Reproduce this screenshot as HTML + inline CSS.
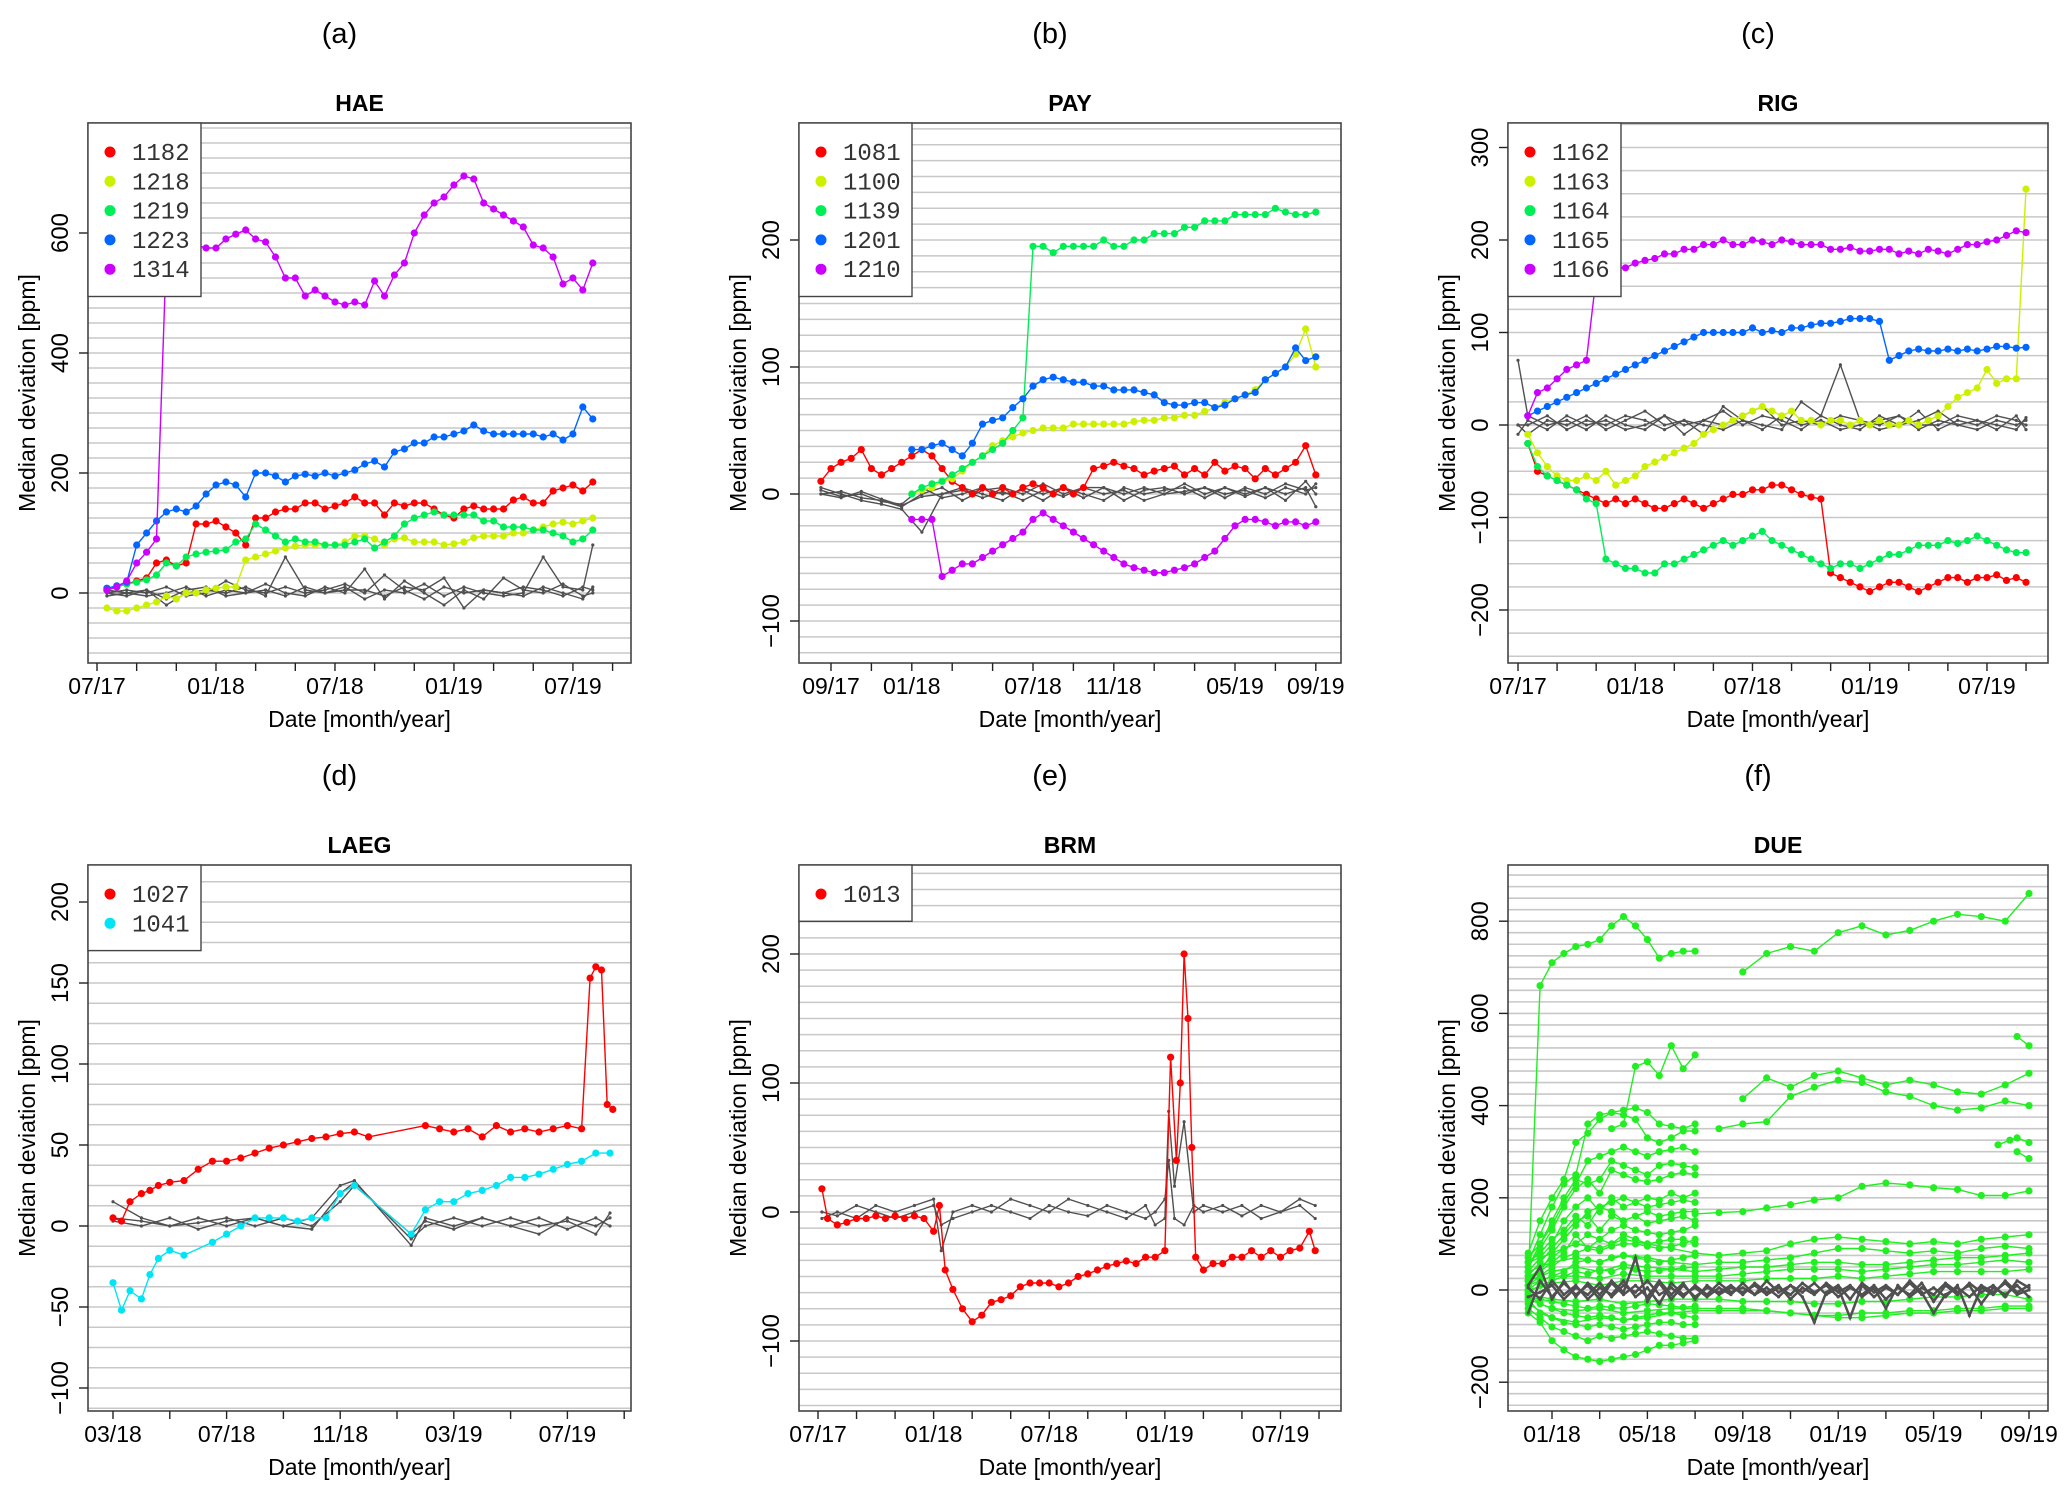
<!DOCTYPE html>
<html><head><meta charset="utf-8">
<style>
html,body{margin:0;padding:0;background:#fff;}
svg{display:block;font-family:"Liberation Sans",sans-serif;}
</style></head>
<body>
<svg id="fig" width="2067" height="1488" viewBox="0 0 2067 1488" xmlns="http://www.w3.org/2000/svg"></svg>
<script>
// ---------- DATA ----------
const A_M = [6.5,7,7.5,8,8.5,9,9.5,10,10.5,11,11.5,12,12.5,13,13.5,14,14.5,15,15.5,16,16.5,17,17.5,18,18.5,19,19.5,20,20.5,21,21.5,22,22.5,23,23.5,24,24.5,25,25.5,26,26.5,27,27.5,28,28.5,29,29.5,30,30.5,31];
const a1314 = [5,10,20,50,68,90,570,560,575,580,575,575,590,598,605,590,585,560,525,525,495,505,495,485,480,485,480,520,495,530,550,600,630,650,660,680,695,690,650,640,630,620,610,580,575,560,515,525,505,550];
const a1223 = [8,12,18,80,100,120,135,140,135,145,165,180,185,180,160,200,200,195,185,195,198,195,200,195,200,205,215,220,210,235,240,250,250,260,260,265,270,280,270,265,265,265,265,265,260,265,255,265,310,290];
const a1182 = [5,10,15,20,25,50,55,45,50,115,115,120,110,100,80,125,125,135,140,140,150,150,140,145,150,160,150,150,130,150,145,150,150,140,130,125,140,145,140,140,140,155,160,150,150,170,175,180,170,185];
const a1219 = [5,10,15,18,22,30,50,45,60,65,68,70,72,85,90,115,105,95,85,90,85,85,80,80,80,85,90,75,85,95,115,125,130,135,130,130,130,130,120,120,110,110,110,105,105,100,95,85,90,105];
const a1218 = [-25,-30,-30,-25,-20,-15,-5,-10,0,0,5,8,10,10,55,60,65,70,75,78,80,80,80,80,85,95,95,90,80,90,92,85,85,85,80,82,85,92,95,95,95,100,100,105,110,115,118,115,120,125];
const A_G = [6.5,7.5,8.5,9.5,10.5,11.5,12.5,13.5,14.5,15.5,16.5,17.5,18.5,19.5,20.5,21.5,22.5,23.5,24.5,25.5,26.5,27.5,28.5,29.5,30.5,31];
const aG1 = [0,-5,5,-20,0,5,0,10,-5,60,5,0,10,-10,5,0,15,-5,10,0,-5,0,60,10,5,80];
const aG2 = [5,0,-5,0,10,-5,5,0,15,0,-5,10,0,40,-10,20,0,-20,5,-10,25,5,0,15,-5,0];
const aG3 = [0,5,0,10,-5,0,20,5,0,10,0,5,15,0,30,5,-10,10,0,5,0,10,5,-5,10,5];
const aG4 = [-5,0,5,-10,5,10,-5,0,5,-5,10,0,5,5,-5,10,5,25,-25,5,0,-5,10,0,-10,10];

const B_M = [7.5,8,8.5,9,9.5,10,10.5,11,11.5,12,12.5,13,13.5,14,14.5,15,15.5,16,16.5,17,17.5,18,18.5,19,19.5,20,20.5,21,21.5,22,22.5,23,23.5,24,24.5,25,25.5,26,26.5,27,27.5,28,28.5,29,29.5,30,30.5,31,31.5,32];
const b1081 = [10,20,25,28,35,20,15,20,25,30,35,30,20,10,5,0,5,0,5,0,5,8,5,0,5,0,5,20,22,25,22,20,15,18,20,22,15,20,15,25,18,22,20,12,20,15,20,25,38,15];
const B_M2 = [12,12.5,13,13.5,14,14.5,15,15.5,16,16.5,17,17.5,18,18.5,19,19.5,20,20.5,21,21.5,22,22.5,23,23.5,24,24.5,25,25.5,26,26.5,27,27.5,28,28.5,29,29.5,30,30.5,31,31.5,32];
const b1139 = [0,5,8,10,15,20,25,30,35,40,50,60,195,195,190,195,195,195,195,200,195,195,200,200,205,205,205,210,210,215,215,215,220,220,220,220,225,222,220,220,222];
const b1100 = [0,3,5,10,12,18,25,30,38,42,45,48,50,52,52,52,55,55,55,55,55,55,57,58,58,60,60,62,62,65,68,72,75,78,82,90,95,100,110,130,100];
const b1201 = [35,35,38,40,35,30,40,55,58,60,68,75,85,90,92,90,88,88,85,85,82,82,82,80,78,72,70,70,72,72,68,70,75,78,80,90,95,100,115,105,108];
const b1210 = [-20,-20,-20,-65,-60,-55,-55,-50,-45,-40,-35,-30,-20,-15,-20,-25,-30,-35,-40,-45,-50,-55,-58,-60,-62,-62,-60,-58,-55,-50,-45,-35,-25,-20,-20,-22,-25,-22,-22,-25,-22];
const B_G = [7.5,8.5,9.5,10.5,11.5,12.5,13.5,14.5,15.5,16.5,17.5,18.5,19.5,20.5,21.5,22.5,23.5,24.5,25.5,26.5,27.5,28.5,29.5,30.5,31.5,32];
const bG1 = [5,0,-5,-8,-12,-30,0,5,0,-5,5,0,5,-3,5,0,5,0,8,0,5,-2,5,0,5,-10];
const bG2 = [0,2,-3,-5,-10,0,5,-5,3,5,0,8,0,5,5,-5,3,5,0,5,-3,5,0,8,3,5];
const bG3 = [3,-2,0,-6,-8,5,-3,0,5,0,3,-5,5,0,-5,5,0,3,5,-3,5,0,5,-5,10,0];
const bG4 = [0,-3,2,-4,-9,-2,0,3,-3,2,-5,3,-2,5,0,3,-5,0,2,5,0,3,-3,5,0,8];

const C_M = [6.5,7,7.5,8,8.5,9,9.5,10,10.5,11,11.5,12,12.5,13,13.5,14,14.5,15,15.5,16,16.5,17,17.5,18,18.5,19,19.5,20,20.5,21,21.5,22,22.5,23,23.5,24,24.5,25,25.5,26,26.5,27,27.5,28,28.5,29,29.5,30,30.5,31,31.5,32];
const c1166 = [10,35,40,50,60,65,70,160,165,170,170,175,178,180,185,185,190,190,195,195,200,195,195,200,198,195,200,198,195,195,195,190,190,192,188,188,190,190,185,188,185,190,188,185,190,195,195,198,200,205,210,208];
const c1165 = [10,15,20,25,30,35,40,45,50,55,60,65,70,75,80,85,90,95,100,100,100,100,100,105,100,102,100,105,105,108,110,110,112,115,115,115,112,70,75,80,82,80,80,82,80,82,80,82,85,85,83,84];
const c1162 = [-20,-50,-55,-60,-65,-70,-75,-80,-85,-80,-85,-80,-85,-90,-90,-85,-80,-85,-90,-85,-80,-75,-75,-70,-70,-65,-65,-70,-75,-78,-80,-160,-165,-170,-175,-180,-175,-170,-170,-175,-180,-175,-170,-165,-165,-170,-165,-165,-162,-168,-165,-170];
const c1164 = [-20,-45,-55,-60,-65,-70,-80,-85,-145,-150,-155,-155,-160,-160,-150,-150,-145,-140,-135,-130,-125,-130,-125,-120,-115,-125,-130,-135,-140,-145,-150,-155,-150,-150,-155,-150,-145,-140,-140,-135,-130,-130,-130,-125,-128,-125,-120,-125,-130,-135,-138,-138];
const c1163 = [-10,-30,-45,-55,-60,-60,-55,-60,-50,-65,-60,-55,-45,-40,-35,-30,-25,-20,-10,-5,0,5,10,15,20,15,10,15,5,5,0,5,5,0,5,0,5,0,0,5,0,5,10,20,30,35,40,60,45,50,50,255];
const C_G = [6,6.5,7.5,8.5,9.5,10.5,11.5,12.5,13.5,14.5,15.5,16.5,17.5,18.5,19.5,20.5,21.5,22.5,23.5,24.5,25.5,26.5,27.5,28.5,29.5,30.5,31.5,32];
const cG1 = [70,10,0,5,-5,10,0,-5,10,0,5,15,0,10,5,-5,10,65,5,0,10,-5,5,0,5,-5,10,-5];
const cG2 = [0,-10,5,0,10,-5,5,15,0,5,-10,20,5,0,-5,25,10,0,-5,10,0,15,-5,5,0,10,5,0];
const cG3 = [-10,5,-5,10,0,5,-5,0,10,-10,5,0,10,20,0,5,0,10,5,-5,0,5,15,0,-5,5,0,5];
const cG4 = [0,0,10,-5,5,0,10,5,-5,5,0,-5,5,-5,10,0,5,-5,0,5,10,0,0,10,5,0,-5,8];

const D_M = [14,14.3,14.6,15,15.3,15.6,16,16.5,17,17.5,18,18.5,19,19.5,20,20.5,21,21.5,22,22.5,23,25,25.5,26,26.5,27,27.5,28,28.5,29,29.5,30,30.5,30.8,31,31.2,31.4,31.6];
const d1027 = [5,3,15,20,22,25,27,28,35,40,40,42,45,48,50,52,54,55,57,58,55,62,60,58,60,55,62,58,60,58,60,62,60,153,160,158,75,72];
const D_M2 = [14,14.3,14.6,15,15.3,15.6,16,16.5,17.5,18,18.5,19,19.5,20,20.5,21,21.5,22,22.5,24.5,25,25.5,26,26.5,27,27.5,28,28.5,29,29.5,30,30.5,31,31.5];
const d1041 = [-35,-52,-40,-45,-30,-20,-15,-18,-10,-5,0,5,5,5,3,5,5,20,25,-5,10,15,15,20,22,25,30,30,32,35,38,40,45,45];
const D_G = [14,15,16,17,18,19,20,21,22,22.5,24.5,25,26,27,28,29,30,31,31.5];
const dG1 = [15,5,0,5,0,5,0,5,25,28,-12,5,0,5,0,-5,5,0,5];
const dG2 = [3,0,5,-2,3,5,0,-2,20,27,-8,0,5,0,5,0,3,-5,8];
const dG3 = [5,3,0,2,5,0,5,0,15,25,-5,3,-2,5,0,5,-2,5,0];

const E_M = [6.2,6.5,7,7.5,8,8.5,9,9.5,10,10.5,11,11.5,12,12.3,12.6,13,13.5,14,14.5,15,15.5,16,16.5,17,17.5,18,18.5,19,19.5,20,20.5,21,21.5,22,22.5,23,23.5,24,24.3,24.6,24.8,25,25.2,25.4,25.6,26,26.5,27,27.5,28,28.5,29,29.5,30,30.5,31,31.5,31.8];
const e1013 = [18,-5,-10,-8,-5,-5,-3,-5,-3,-5,-3,-5,-15,5,-45,-60,-75,-85,-80,-70,-68,-65,-58,-55,-55,-55,-58,-55,-50,-48,-45,-42,-40,-38,-40,-35,-35,-30,120,40,100,200,150,50,-35,-45,-40,-40,-35,-35,-30,-35,-30,-35,-30,-28,-15,-30];
const E_G = [6.2,7,8,9,10,11,12,12.4,13,14,15,16,17,18,19,20,21,22,23,23.5,24,24.2,24.5,25,25.5,26,27,28,29,30,31,31.8];
const eG1 = [-5,0,-5,5,0,5,10,-30,0,5,0,10,5,0,10,5,0,-5,5,-10,-5,78,20,70,0,5,0,5,-5,0,10,5];
const eG2 = [0,-3,5,0,-5,0,5,-10,-5,0,5,0,-5,5,0,-3,5,0,-5,0,10,40,-5,-10,5,0,5,-3,5,0,5,-5];

const F_H = [11,11.5,12,12.5,13,13.5,14,14.5,15,15.5,16,16.5,17,17.5,18];
const F_L = [11,12,13,14,15,16,17,18,19,20,21,22,23,24,25,26,27,28,29,30,31,32];
const F_T = [20,21,22,23,24,25,26,27,28,29,30,31,32];
const fTop1 = [20,660,710,730,745,750,760,790,810,790,760,720,730,735,735];
const fTop2 = [690,730,745,735,775,790,770,780,800,815,810,800,860];
const fH1 = [80,150,200,240,320,340,370,385,390,395,385,360,355,350,360];
const fH2 = [60,120,180,230,250,360,380,385,380,370,330,320,330,345,345];
const fH3 = [70,100,150,200,240,230,240,280,270,260,250,270,275,270,265];
const fH4 = [50,90,130,180,220,240,210,260,250,240,235,240,250,255,250];
const fH5 = [40,70,100,150,180,200,170,200,180,190,200,195,210,200,210];
const fH6 = [30,60,90,120,150,160,130,160,150,160,170,160,165,170,170];
const fH7 = [20,50,70,90,100,120,110,130,140,130,125,120,125,130,140];
const fH8 = [10,30,50,70,80,90,85,95,100,100,95,90,95,100,110];
const fH9 = [0,20,30,40,60,65,60,70,75,70,65,60,65,70,75];
const fH10 = [-10,-30,-40,-50,-55,-60,-55,-60,-65,-60,-55,-50,-50,-55,-60];
const fH11 = [-20,-50,-60,-70,-75,-80,-75,-80,-85,-80,-75,-70,-70,-75,-75];
const fH12 = [-40,-60,-80,-90,-100,-110,-100,-105,-100,-95,-90,-95,-100,-105,-105];
const fH13 = [-50,-70,-110,-130,-145,-150,-155,-150,-145,-140,-130,-120,-120,-115,-110];
const fH14 = [60,80,110,130,160,140,180,170,150,160,145,150,155,160,150];
const fH15 = [30,40,60,80,120,90,110,100,120,110,100,105,110,110,100];
const fH16 = [-5,10,20,30,40,35,45,40,50,45,40,42,45,48,50];
const fH17 = [-15,-20,-25,-30,-35,-40,-35,-38,-40,-35,-30,-32,-35,-38,-35];
const fH18 = [50,100,140,190,230,280,290,300,310,300,290,300,305,310,300];
const fH19 = [20,40,80,110,140,170,180,190,200,190,180,185,190,195,190];
const fH500 = [null,null,null,null,null,null,null,350,360,485,495,465,530,480,510];
const fL1 = [60,80,100,90,110,100,90,80,75,80,85,100,110,115,110,105,100,105,100,110,115,120];
const fL2 = [40,60,70,60,75,70,60,55,60,60,65,70,80,90,90,85,80,85,80,90,95,90];
const fL3 = [20,40,50,40,55,50,45,40,45,50,50,55,60,60,55,55,60,65,70,70,75,80];
const fL4 = [10,30,30,25,35,30,30,30,30,35,40,45,45,45,40,45,50,55,55,60,65,60];
const fL5 = [0,15,20,10,20,20,15,20,20,20,25,25,25,30,25,30,35,40,40,40,40,45];
const fL6 = [-10,-20,-25,-20,-30,-25,-20,-20,-20,-25,-25,-25,-30,-30,-25,-25,-20,-15,-15,-10,-10,-20];
const fL7 = [-20,-40,-45,-40,-50,-45,-40,-40,-40,-40,-45,-50,-55,-55,-50,-50,-45,-45,-40,-40,-35,-35];
const fL8 = [-30,-60,-70,-60,-65,-60,-50,-45,-45,-45,-45,-50,-55,-60,-60,-55,-50,-50,-45,-45,-40,-40];
const fL200 = [null,null,null,null,null,null,null,165,168,170,178,185,195,200,225,232,228,222,218,205,205,215];
const fL400 = [null,null,null,null,null,null,null,null,350,360,365,420,440,455,450,430,420,400,390,395,410,400];
const fL460 = [null,null,null,null,null,null,null,null,null,415,460,440,465,475,460,445,455,445,430,425,445,470];
const F_E1 = [31.5,32];
const fE550 = [550,530];
const F_E2 = [30.7,31.2,31.5,32];
const fE320 = [315,325,330,320];
const fE290 = [300,285];
const F_G = [11,11.5,12,12.5,13,13.5,14,14.5,15,15.5,16,16.5,17,17.5,18,18.5,19,19.5,20,20.5,21,21.5,22,22.5,23,23.5,24,24.5,25,25.5,26,26.5,27,27.5,28,28.5,29,29.5,30,30.5,31,31.5,32];
const fG1 = [-50,20,-15,15,-10,10,-20,15,-10,10,-15,20,-10,15,-20,10,-10,5,-5,10,-10,5,-10,15,-5,10,-15,5,-10,10,-20,5,-10,15,-25,10,-10,15,-5,10,-15,20,5];
const fG2 = [10,50,-20,20,-15,15,-10,20,-5,70,-25,15,-20,10,-15,5,-5,10,-10,15,-5,10,-20,5,-10,15,-5,10,-15,5,-40,10,-15,5,-10,15,-5,10,-30,5,-10,10,-15];
const fG3 = [-15,-5,10,-20,5,-10,15,-15,10,-5,20,-10,5,-15,10,-10,15,-5,5,-10,20,-5,10,-15,-70,-5,10,-20,15,-5,10,-10,20,-5,-50,-10,5,-15,10,-5,15,-10,0];
const fG4 = [5,-20,20,-10,10,-20,5,-10,20,-15,5,-30,15,-10,5,-15,5,-10,15,-10,5,-15,10,-5,15,-10,5,-60,10,-15,5,-10,15,-10,5,-15,10,-55,5,-10,20,-5,10];

// ---------- DRAWING ----------
const NS = "http://www.w3.org/2000/svg";
const svg = document.getElementById('fig');
function mk(tag, attrs, parent) {
  const e = document.createElementNS(NS, tag);
  for (const k in attrs) e.setAttribute(k, attrs[k]);
  (parent || svg).appendChild(e);
  return e;
}
function txt(str, attrs, parent) { const t = mk('text', attrs, parent); t.textContent = str; return t; }

function panel(p) {
  const g = mk('g', {});
  
  
  const X = m => p.x0 + (m - p.m0) * p.pxm;
  const Y = v => p.y0 - v * p.pxv;
  const gg = mk('g', {}, g);
  
  
  const vTop = (p.y0 - p.T) / p.pxv, vBot = (p.y0 - p.B) / p.pxv;
  for (let v = Math.ceil(vBot / p.grid) * p.grid; v <= vTop; v += p.grid) {
    mk('line', {x1: p.L, x2: p.R, y1: Y(v), y2: Y(v), stroke: '#c8c8c8', 'stroke-width': 1.6}, gg);
  }
  const sg = mk('g', {'clip-path': 'url(#clip-' + p.key + ')'}, g);
  
  
  const cp = mk('clipPath', {id: 'clip-' + p.key});
  mk('rect', {x: p.L, y: p.T, width: p.R - p.L, height: p.B - p.T}, cp);
  p.series.forEach(s => {
    const n = Math.min(s.x.length, s.y.length);
    let d = '', pen = false;
    for (let i = 0; i < n; i++) {
      if (s.y[i] === null) { pen = false; continue; }
      d += (pen ? 'L' : 'M') + X(s.x[i]).toFixed(1) + ' ' + Y(s.y[i]).toFixed(1);
      pen = true;
    }
    const path = mk('path', {d: d, fill: 'none', stroke: s.c, 'stroke-width': s.grey ? (s.w || 1.4) : 1.4}, sg);
    
    
    const r = s.grey ? 1.6 : 3.6;
    for (let i = 0; i < n; i++) {
      if (s.y[i] === null) continue;
      const c = mk('circle', {cx: X(s.x[i]).toFixed(1), cy: Y(s.y[i]).toFixed(1), r: r, fill: s.c}, sg);
      
      
    }
  });
  const box = mk('rect', {x: p.L, y: p.T, width: p.R - p.L, height: p.B - p.T, fill: 'none', stroke: '#444', 'stroke-width': 1.6}, g);
  
  
  // y axis
  const ya = mk('g', {}, g);
  
  
  p.yt.forEach(v => {
    mk('line', {x1: p.L - 9, x2: p.L, y1: Y(v), y2: Y(v), stroke: '#222', 'stroke-width': 1.4}, ya);
    const t = txt(String(v).replace('-', '\u2212'), {x: p.L - 20, y: Y(v), 'font-size': 24, 'text-anchor': 'middle', transform: 'rotate(-90 ' + (p.L - 20) + ' ' + Y(v) + ')'}, ya);
    
    
  });
  const yl = txt('Median deviation [ppm]', {x: p.L - 53, y: (p.T + p.B) / 2, 'font-size': 23, 'text-anchor': 'middle', transform: 'rotate(-90 ' + (p.L - 53) + ' ' + ((p.T + p.B) / 2) + ')'}, g);
  
  
  // x axis
  const xa = mk('g', {}, g);
  
  
  p.xt.forEach(m => mk('line', {x1: X(m), x2: X(m), y1: p.B, y2: p.B + 8, stroke: '#222', 'stroke-width': 1.4}, xa));
  p.xl.forEach((lab, i) => {
    const t = txt(lab, {x: X(p.xlm[i]), y: p.B + 31, 'font-size': 23, 'text-anchor': 'middle'}, xa);
    
    
  });
  const xl = txt('Date [month/year]', {x: (p.L + p.R) / 2, y: p.B + 64, 'font-size': 23, 'text-anchor': 'middle'}, g);
  
  
  const tl = txt(p.letter, {x: (p.L + p.R) / 2 - 20, y: p.T - 80, 'font-size': 29, 'text-anchor': 'middle'}, g);
  
  
  const tt = txt(p.title, {x: (p.L + p.R) / 2, y: p.T - 12, 'font-size': 23, 'font-weight': 'bold', 'text-anchor': 'middle'}, g);
  
  
  const leg = p.series.filter(s => s.legend);
  if (leg.length) {
    const lg = mk('g', {}, g);
    
    
    mk('rect', {x: p.L, y: p.T, width: 113, height: 22 + leg.length * 29.3 + 5, fill: '#fff', stroke: '#444', 'stroke-width': 1.4}, lg);
    leg.forEach((s, i) => {
      const yy = p.T + 29 + i * 29.3;
      const e = mk('g', {}, lg);
      
      
      mk('circle', {cx: p.L + 22, cy: yy, r: 5.5, fill: s.c}, e);
      txt(s.name, {x: p.L + 44, y: yy + 8, 'font-size': 24, 'font-family': '"Liberation Mono", monospace', fill: '#333'}, e);
    });
  }
}

const RED = '#ff0000', YEL = '#ccf000', GRN = '#00ee55', BLU = '#0066ff', PUR = '#cc00ff', GRY = '#505050', CYN = '#00e5f5', FGR = '#22ee22';

panel({key: 'a', letter: '(a)', title: 'HAE', L: 88, R: 631, T: 123, B: 663, x0: 97, m0: 6, pxm: 19.83, y0: 593, pxv: 0.6, grid: 25,
  yt: [0, 200, 400, 600], xt: [6,8,10,12,14,16,18,20,22,24,26,28,30,32], xl: ['07/17','01/18','07/18','01/19','07/19'], xlm: [6,12,18,24,30],
  series: [
    {name: 'grey1', c: GRY, grey: true, x: A_G, y: aG1}, {name: 'grey2', c: GRY, grey: true, x: A_G, y: aG2},
    {name: 'grey3', c: GRY, grey: true, x: A_G, y: aG3}, {name: 'grey4', c: GRY, grey: true, x: A_G, y: aG4},
    {name: '1182', c: RED, legend: 1, x: A_M, y: a1182}, {name: '1218', c: YEL, legend: 1, x: A_M, y: a1218},
    {name: '1219', c: GRN, legend: 1, x: A_M, y: a1219}, {name: '1223', c: BLU, legend: 1, x: A_M, y: a1223},
    {name: '1314', c: PUR, legend: 1, x: A_M, y: a1314}]});
panel({key: 'b', letter: '(b)', title: 'PAY', L: 799, R: 1341, T: 123, B: 663, x0: 831, m0: 8, pxm: 20.2, y0: 494, pxv: 1.27, grid: 12.5,
  yt: [-100, 0, 100, 200], xt: [8,10,12,14,16,18,20,22,24,26,28,30,32], xl: ['09/17','01/18','07/18','11/18','05/19','09/19'], xlm: [8,12,18,22,28,32],
  series: [
    {name: 'grey1', c: GRY, grey: true, x: B_G, y: bG1}, {name: 'grey2', c: GRY, grey: true, x: B_G, y: bG2},
    {name: 'grey3', c: GRY, grey: true, x: B_G, y: bG3}, {name: 'grey4', c: GRY, grey: true, x: B_G, y: bG4},
    {name: '1081', c: RED, legend: 1, x: B_M, y: b1081}, {name: '1100', c: YEL, legend: 1, x: B_M2, y: b1100},
    {name: '1139', c: GRN, legend: 1, x: B_M2, y: b1139}, {name: '1201', c: BLU, legend: 1, x: B_M2, y: b1201},
    {name: '1210', c: PUR, legend: 1, x: B_M2, y: b1210}]});
panel({key: 'c', letter: '(c)', title: 'RIG', L: 1508, R: 2048, T: 123, B: 663, x0: 1518, m0: 6, pxm: 19.54, y0: 425, pxv: 0.925, grid: 25,
  yt: [-200, -100, 0, 100, 200, 300], xt: [6,8,10,12,14,16,18,20,22,24,26,28,30,32], xl: ['07/17','01/18','07/18','01/19','07/19'], xlm: [6,12,18,24,30],
  series: [
    {name: 'grey1', c: GRY, grey: true, x: C_G, y: cG1}, {name: 'grey2', c: GRY, grey: true, x: C_G, y: cG2},
    {name: 'grey3', c: GRY, grey: true, x: C_G, y: cG3}, {name: 'grey4', c: GRY, grey: true, x: C_G, y: cG4},
    {name: '1162', c: RED, legend: 1, x: C_M, y: c1162}, {name: '1163', c: YEL, legend: 1, x: C_M, y: c1163},
    {name: '1164', c: GRN, legend: 1, x: C_M, y: c1164}, {name: '1165', c: BLU, legend: 1, x: C_M, y: c1165},
    {name: '1166', c: PUR, legend: 1, x: C_M, y: c1166}]});
panel({key: 'd', letter: '(d)', title: 'LAEG', L: 88, R: 631, T: 865, B: 1411, x0: 113, m0: 14, pxm: 28.4, y0: 1226, pxv: 1.62, grid: 12.5,
  yt: [-100, -50, 0, 50, 100, 150, 200], xt: [14,16,18,20,22,24,26,28,30,32], xl: ['03/18','07/18','11/18','03/19','07/19'], xlm: [14,18,22,26,30],
  series: [
    {name: 'grey1', c: GRY, grey: true, x: D_G, y: dG1}, {name: 'grey2', c: GRY, grey: true, x: D_G, y: dG2},
    {name: 'grey3', c: GRY, grey: true, x: D_G, y: dG3},
    {name: '1027', c: RED, legend: 1, x: D_M, y: d1027}, {name: '1041', c: CYN, legend: 1, x: D_M2, y: d1041}]});
panel({key: 'e', letter: '(e)', title: 'BRM', L: 799, R: 1341, T: 865, B: 1411, x0: 818, m0: 6, pxm: 19.27, y0: 1212, pxv: 1.29, grid: 12.5,
  yt: [-100, 0, 100, 200], xt: [6,8,10,12,14,16,18,20,22,24,26,28,30,32], xl: ['07/17','01/18','07/18','01/19','07/19'], xlm: [6,12,18,24,30],
  series: [
    {name: 'grey1', c: GRY, grey: true, x: E_G, y: eG1}, {name: 'grey2', c: GRY, grey: true, x: E_G, y: eG2},
    {name: '1013', c: RED, legend: 1, x: E_M, y: e1013}]});
const fGreen = [fH1,fH2,fH3,fH4,fH5,fH6,fH7,fH8,fH9,fH10,fH11,fH12,fH13,fH14,fH15,fH16,fH17,fH18,fH19,fH500].map((y, i) => ({name: 'sensor-h' + i, c: FGR, x: F_H, y: y}));
const fLow = [fL1,fL2,fL3,fL4,fL5,fL6,fL7,fL8,fL200,fL400,fL460].map((y, i) => ({name: 'sensor-l' + i, c: FGR, x: F_L, y: y}));
panel({key: 'f', letter: '(f)', title: 'DUE', L: 1508, R: 2048, T: 865, B: 1411, x0: 1552, m0: 12, pxm: 23.85, y0: 1290, pxv: 0.461, grid: 25,
  yt: [-200, 0, 200, 400, 600, 800], xt: [12,14,16,18,20,22,24,26,28,30,32], xl: ['01/18','05/18','09/18','01/19','05/19','09/19'], xlm: [12,16,20,24,28,32],
  series: fGreen.concat(fLow).concat([
    {name: 'sensor-top1', c: FGR, x: F_H, y: fTop1}, {name: 'sensor-top2', c: FGR, x: F_T, y: fTop2},
    {name: 'sensor-e550', c: FGR, x: F_E1, y: fE550}, {name: 'sensor-e320', c: FGR, x: F_E2, y: fE320}, {name: 'sensor-e290', c: FGR, x: F_E1, y: fE290},
    {name: 'grey1', c: GRY, grey: true, w: 2.5, x: F_G, y: fG1}, {name: 'grey2', c: GRY, grey: true, w: 2.5, x: F_G, y: fG2},
    {name: 'grey3', c: GRY, grey: true, w: 2.5, x: F_G, y: fG3}, {name: 'grey4', c: GRY, grey: true, w: 2.5, x: F_G, y: fG4}])});
</script>
</body></html>
